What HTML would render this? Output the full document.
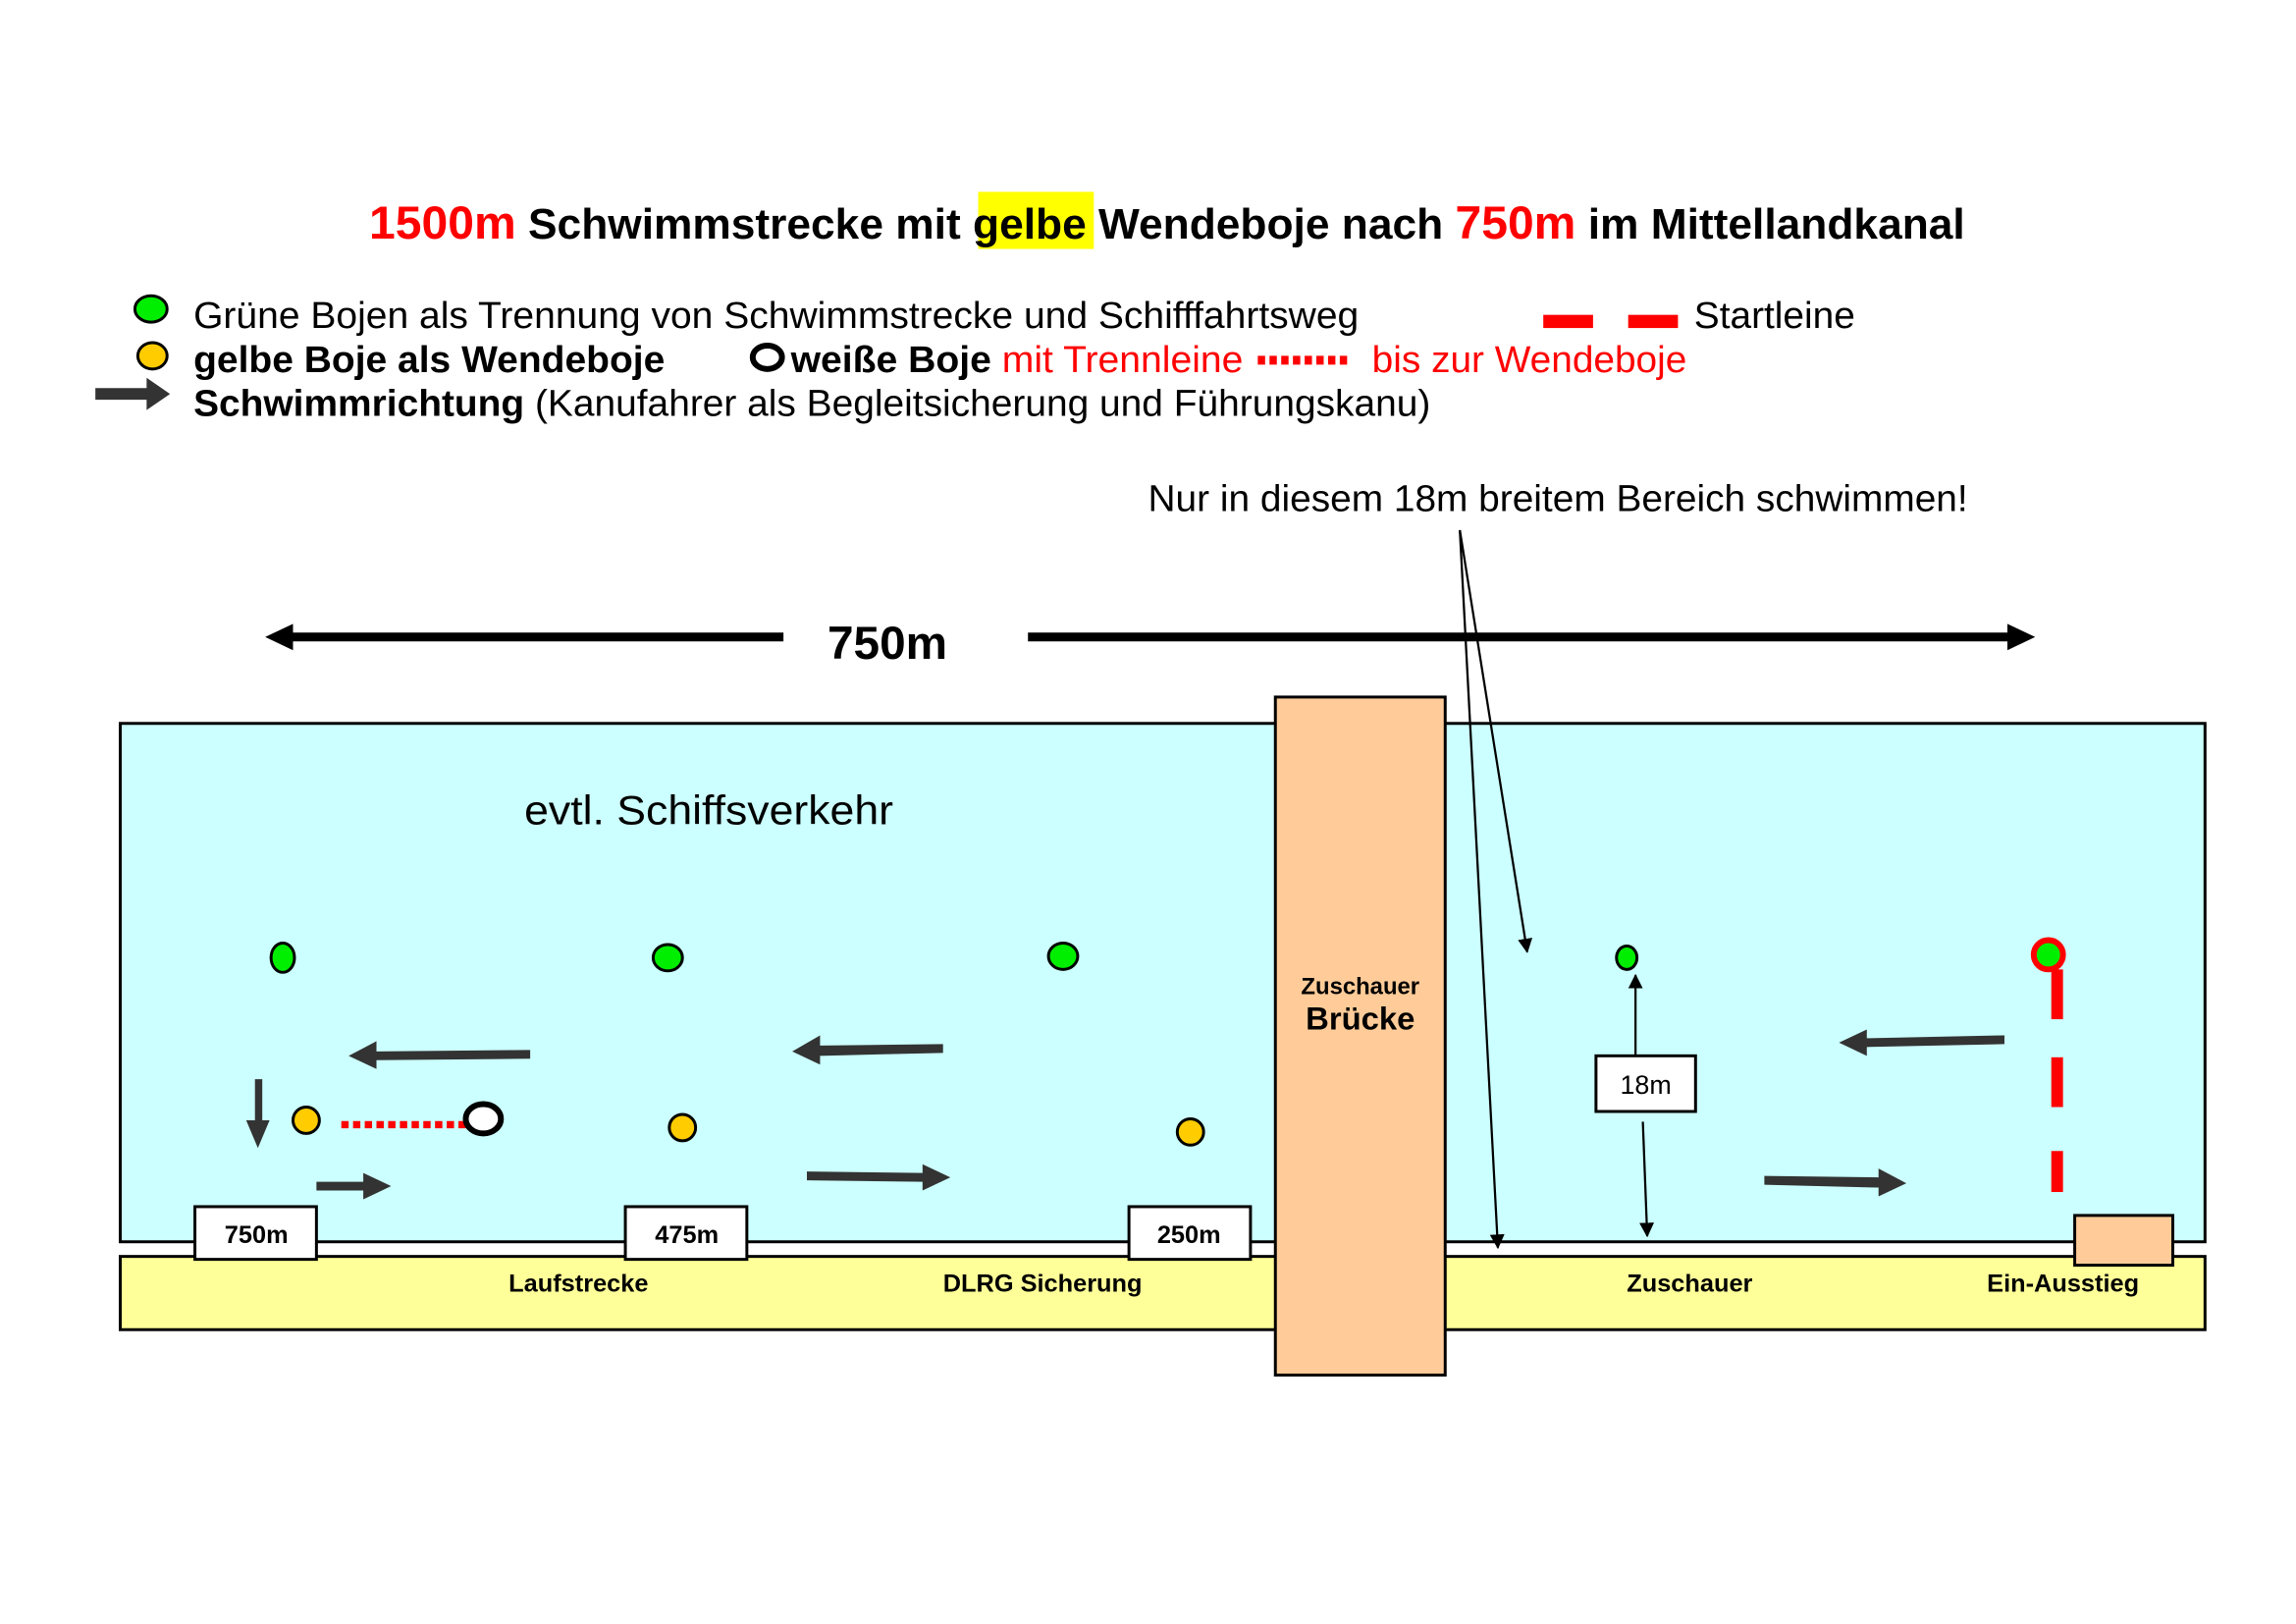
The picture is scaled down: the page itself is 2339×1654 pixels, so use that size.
<!DOCTYPE html>
<html><head><meta charset="utf-8"><style>html,body{margin:0;padding:0;background:#fff}svg{display:block}</style></head>
<body>
<svg width="2339" height="1654" viewBox="0 0 1568 1109" xmlns="http://www.w3.org/2000/svg" font-family="Liberation Sans, Arial, sans-serif">
<defs>
<marker id="ah" markerWidth="10" markerHeight="12" refX="9" refY="6" orient="auto" markerUnits="userSpaceOnUse"><path d="M0,1 L10,6 L0,11 Z" fill="#000"/></marker>
</defs>
<!-- title -->
<rect x="668" y="131" width="79" height="39" fill="#ffff00"/>
<text x="797" y="163" text-anchor="middle" font-size="29.5" font-weight="bold" textLength="1090" lengthAdjust="spacingAndGlyphs"><tspan fill="#ff0000" font-size="32">1500m</tspan> Schwimmstrecke mit gelbe Wendeboje nach <tspan fill="#ff0000" font-size="32">750m</tspan> im Mittellandkanal</text>
<!-- legend -->
<ellipse cx="103" cy="211" rx="11" ry="9" fill="#00ee00" stroke="#000" stroke-width="2"/>
<text x="132" y="224" font-size="25.5" textLength="796" lengthAdjust="spacingAndGlyphs">Grüne Bojen als Trennung von Schwimmstrecke und Schifffahrtsweg</text>
<rect x="1054" y="215" width="34" height="9" fill="#ff0000"/><rect x="1112" y="215" width="34" height="9" fill="#ff0000"/>
<text x="1157" y="224" font-size="25.5" textLength="110" lengthAdjust="spacingAndGlyphs">Startleine</text>
<ellipse cx="104" cy="243" rx="10" ry="9" fill="#ffcc00" stroke="#000" stroke-width="2"/>
<text x="132" y="254" font-size="25.5" font-weight="bold" textLength="322" lengthAdjust="spacingAndGlyphs">gelbe Boje als Wendeboje</text>
<ellipse cx="524" cy="244" rx="10" ry="8" fill="#fff" stroke="#000" stroke-width="4"/>
<text x="540" y="254" font-size="25.5" textLength="309" lengthAdjust="spacingAndGlyphs"><tspan font-weight="bold">weiße Boje</tspan><tspan fill="#ff0000"> mit Trennleine</tspan></text>
<line x1="859" y1="246" x2="920" y2="246" stroke="#ff0000" stroke-width="6" stroke-dasharray="5,3"/>
<text x="937" y="254" font-size="25.5" fill="#ff0000" textLength="215" lengthAdjust="spacingAndGlyphs">bis zur Wendeboje</text>
<polygon points="65,265 100,265 100,258 116,269 100,280 100,273 65,273" fill="#333"/>
<text x="132" y="284" font-size="25.5" textLength="845" lengthAdjust="spacingAndGlyphs"><tspan font-weight="bold">Schwimmrichtung</tspan> (Kanufahrer als Begleitsicherung und Führungskanu)</text>
<text x="784" y="349" font-size="25.5" textLength="560" lengthAdjust="spacingAndGlyphs">Nur in diesem 18m breitem Bereich schwimmen!</text>
<!-- 750m arrow -->
<line x1="535" y1="435" x2="195" y2="435" stroke="#000" stroke-width="6"/>
<polygon points="181,435 200,426 200,444" fill="#000"/>
<line x1="702" y1="435" x2="1375" y2="435" stroke="#000" stroke-width="6"/>
<polygon points="1390,435 1371,426 1371,444" fill="#000"/>
<text x="606" y="450" text-anchor="middle" font-size="32" font-weight="bold">750m</text>
<!-- water & shore -->
<rect x="82" y="494" width="1424" height="354" fill="#ccffff" stroke="#000" stroke-width="2"/>
<rect x="82" y="858" width="1424" height="50" fill="#ffff99" stroke="#000" stroke-width="2"/>
<text x="358" y="563" font-size="28" textLength="252" lengthAdjust="spacingAndGlyphs">evtl. Schiffsverkehr</text>
<!-- bridge -->
<rect x="871" y="476" width="116" height="463" fill="#ffcc99" stroke="#000" stroke-width="2"/>
<text x="929" y="679" text-anchor="middle" font-size="16" font-weight="bold">Zuschauer</text>
<text x="929" y="703" text-anchor="middle" font-size="22" font-weight="bold">Brücke</text>
<!-- green buoys -->
<g fill="#00ee00" stroke="#000" stroke-width="2">
<ellipse cx="193" cy="654" rx="8" ry="10"/><ellipse cx="456" cy="654" rx="10" ry="9"/><ellipse cx="726" cy="653" rx="10" ry="9"/><ellipse cx="1111" cy="654" rx="7" ry="8"/>
</g>
<!-- start line -->
<g fill="#ff0000">
<rect x="1401" y="662" width="8" height="34"/><rect x="1401" y="722" width="8" height="34"/><rect x="1401" y="786" width="8" height="28"/>
</g>
<ellipse cx="1399" cy="652" rx="10" ry="10" fill="#00ee00" stroke="#ff0000" stroke-width="4"/>
<!-- yellow buoys -->
<g fill="#ffcc00" stroke="#000" stroke-width="2">
<ellipse cx="209" cy="765" rx="9" ry="9"/><ellipse cx="466" cy="770" rx="9" ry="9"/><ellipse cx="813" cy="773" rx="9" ry="9"/>
</g>
<line x1="233" y1="768" x2="318" y2="768" stroke="#ff0000" stroke-width="5" stroke-dasharray="5,3"/>
<ellipse cx="330" cy="764" rx="12" ry="10" fill="#fff" stroke="#000" stroke-width="4"/>
<!-- swim arrows -->
<g fill="#333">
<polygon points="362,717 257,718 257,711 238,721 257,730 257,724 362,723"/>
<polygon points="644,713 560,714 560,707 541,718 560,727 560,721 644,719"/>
<polygon points="1369,707 1275,709 1275,703 1256,712 1275,721 1275,715 1369,713"/>
<polygon points="174,737 174,765 168,765 176,784 184,765 179,765 179,737"/>
<polygon points="216,807 248,807 248,801 267,810 248,819 248,813 216,813"/>
<polygon points="551,800 630,801 630,795 649,804 630,813 630,807 551,806"/>
<polygon points="1205,803 1283,804 1283,798 1302,808 1283,817 1283,811 1205,809"/>
</g>
<!-- pointer lines -->
<line x1="997" y1="362" x2="1043" y2="650" stroke="#000" stroke-width="1.5" marker-end="url(#ah)"/>
<line x1="997" y1="362" x2="1023" y2="852" stroke="#000" stroke-width="1.5" marker-end="url(#ah)"/>
<line x1="1117" y1="721" x2="1117" y2="666" stroke="#000" stroke-width="1.5" marker-end="url(#ah)"/>
<line x1="1122" y1="766" x2="1125" y2="844" stroke="#000" stroke-width="1.5" marker-end="url(#ah)"/>
<rect x="1090" y="721" width="68" height="38" fill="#fff" stroke="#000" stroke-width="2"/>
<text x="1124" y="747" text-anchor="middle" font-size="18">18m</text>
<!-- distance boxes -->
<g stroke="#000" stroke-width="2" fill="#fff">
<rect x="133" y="824" width="83" height="36"/><rect x="427" y="824" width="83" height="36"/><rect x="771" y="824" width="83" height="36"/>
</g>
<g font-size="17" font-weight="bold" text-anchor="middle">
<text x="175" y="849">750m</text><text x="469" y="849">475m</text><text x="812" y="849">250m</text>
<text x="395" y="882">Laufstrecke</text><text x="712" y="882">DLRG Sicherung</text><text x="1154" y="882">Zuschauer</text><text x="1409" y="882">Ein-Ausstieg</text>
</g>
<rect x="1417" y="830" width="67" height="34" fill="#ffcc99" stroke="#000" stroke-width="2"/>
</svg>
</body></html>
